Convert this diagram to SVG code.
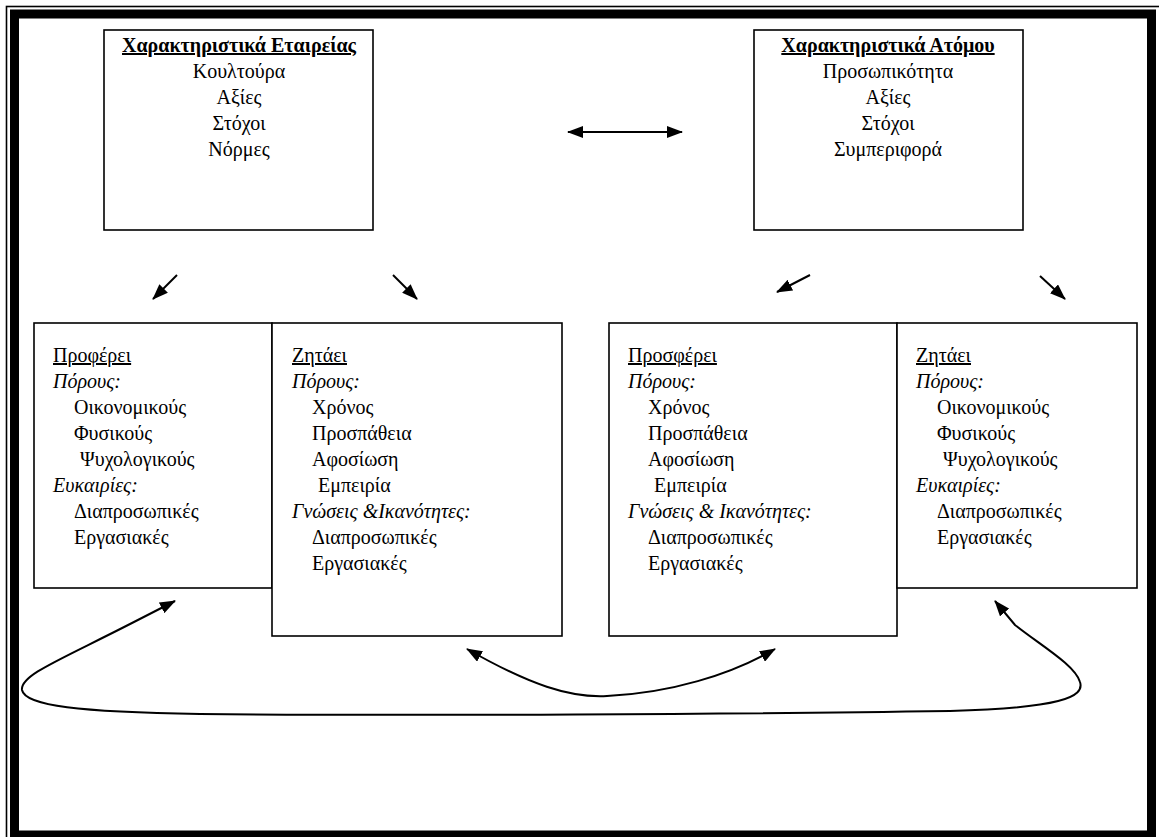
<svg xmlns="http://www.w3.org/2000/svg" width="1159" height="837" viewBox="0 0 1159 837">
<defs>
<marker id="ah" viewBox="0 0 16 12" refX="15" refY="6" markerWidth="16" markerHeight="12" markerUnits="userSpaceOnUse" orient="auto-start-reverse">
<path d="M0,0 L16,6 L0,12 Z" fill="#000"/>
</marker>
</defs>
<style>
.box{fill:#fff;stroke:#000;stroke-width:1.6}
text{font-family:"Liberation Serif","DejaVu Serif","Times New Roman",serif;font-size:20px;fill:#000}
.c{text-anchor:middle}
.t{font-weight:bold;text-decoration:underline}
.u{text-decoration:underline}
.i{font-style:italic}
.ln{fill:none;stroke:#000;stroke-width:2}
</style>
<rect x="0" y="0" width="1159" height="837" fill="#fff"/>
<g id="frame">
<rect x="6.5" y="6.5" width="1162" height="842" fill="none" stroke="#000" stroke-width="1.6"/>
<rect x="14.5" y="14" width="1137" height="821" fill="none" stroke="#000" stroke-width="9"/>
</g>
<g id="company">
<rect class="box" x="104" y="30" width="269" height="200"/>
<text class="c t" x="239" y="52">Χαρακτηριστικά Εταιρείας</text>
<text class="c" x="239" y="78">Κουλτούρα</text>
<text class="c" x="239" y="104">Αξίες</text>
<text class="c" x="239" y="130">Στόχοι</text>
<text class="c" x="239" y="156">Νόρμες</text>
</g>
<g id="person">
<rect class="box" x="754" y="30" width="269" height="200"/>
<text class="c t" x="888" y="52">Χαρακτηριστικά Ατόμου</text>
<text class="c" x="888" y="78">Προσωπικότητα</text>
<text class="c" x="888" y="104">Αξίες</text>
<text class="c" x="888" y="130">Στόχοι</text>
<text class="c" x="888" y="156">Συμπεριφορά</text>
</g>
<g id="company-offers">
<rect class="box" x="34" y="323" width="238" height="265"/>
<text class="u" x="53" y="362">Προφέρει</text>
<text class="i" x="53" y="388">Πόρους:</text>
<text x="74" y="414">Οικονομικούς</text>
<text x="74" y="440">Φυσικούς</text>
<text x="80" y="466">Ψυχολογικούς</text>
<text class="i" x="53" y="492">Ευκαιρίες:</text>
<text x="74" y="518">Διαπροσωπικές</text>
<text x="74" y="544">Εργασιακές</text>
</g>
<g id="company-asks">
<rect class="box" x="272" y="323" width="290" height="313"/>
<text class="u" x="292" y="362">Ζητάει</text>
<text class="i" x="292" y="388">Πόρους:</text>
<text x="312" y="414">Χρόνος</text>
<text x="312" y="440">Προσπάθεια</text>
<text x="312" y="466">Αφοσίωση</text>
<text x="318" y="492">Εμπειρία</text>
<text class="i" x="292" y="518">Γνώσεις &amp;Ικανότητες:</text>
<text x="312" y="544">Διαπροσωπικές</text>
<text x="312" y="570">Εργασιακές</text>
</g>
<g id="person-offers">
<rect class="box" x="609" y="323" width="288" height="313"/>
<text class="u" x="628" y="362">Προσφέρει</text>
<text class="i" x="628" y="388">Πόρους:</text>
<text x="648" y="414">Χρόνος</text>
<text x="648" y="440">Προσπάθεια</text>
<text x="648" y="466">Αφοσίωση</text>
<text x="654" y="492">Εμπειρία</text>
<text class="i" x="628" y="518">Γνώσεις &amp; Ικανότητες:</text>
<text x="648" y="544">Διαπροσωπικές</text>
<text x="648" y="570">Εργασιακές</text>
</g>
<g id="person-asks">
<rect class="box" x="897" y="323" width="240" height="265"/>
<text class="u" x="916" y="362">Ζητάει</text>
<text class="i" x="916" y="388">Πόρους:</text>
<text x="937" y="414">Οικονομικούς</text>
<text x="937" y="440">Φυσικούς</text>
<text x="943" y="466">Ψυχολογικούς</text>
<text class="i" x="916" y="492">Ευκαιρίες:</text>
<text x="937" y="518">Διαπροσωπικές</text>
<text x="937" y="544">Εργασιακές</text>
</g>
<g id="connectors">
<line class="ln" x1="568" y1="132" x2="682" y2="132" marker-start="url(#ah)" marker-end="url(#ah)"/>
<line class="ln" x1="177" y1="275" x2="153" y2="299" marker-end="url(#ah)"/>
<line class="ln" x1="393" y1="275" x2="417" y2="299" marker-end="url(#ah)"/>
<line class="ln" x1="810" y1="275" x2="777" y2="292" marker-end="url(#ah)"/>
<line class="ln" x1="1040" y1="276" x2="1065" y2="299" marker-end="url(#ah)"/>
<path class="ln" d="M467,649 C530,685 570,698 607,696 C670,693 730,675 775,649" marker-start="url(#ah)" marker-end="url(#ah)"/>
<path class="ln" d="M175,601 L132,623 C60,660 20,675 22,690 C25,706 80,712 200,714 C400,716 750,714 950,711 C1060,708 1085,697 1080,682 C1075,665 1040,645 1015,625 L995,601" marker-start="url(#ah)" marker-end="url(#ah)"/>
</g>
</svg>
